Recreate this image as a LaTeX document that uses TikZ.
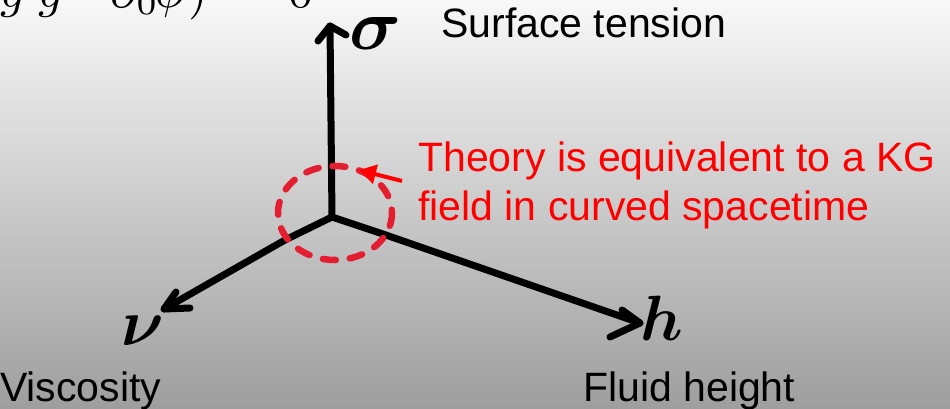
\documentclass[tikz,border=0pt]{standalone}
\usepackage{amsmath,amssymb}
\usepackage{graphicx}
\usepackage{fontspec}
\setmainfont{Liberation Sans}
\usetikzlibrary{arrows.meta}
\definecolor{dashred}{HTML}{E31E30}
\definecolor{bgtop}{HTML}{F8F8F8}
\definecolor{bgbot}{HTML}{9E9E9E}
\tikzset{
  axis/.style={line width=7pt, line cap=round, line join=round, black},
  lbl/.style={inner sep=0pt, anchor=base west, font=\fontsize{41}{49}\selectfont},
  glyph/.style={inner sep=0pt, anchor=center},
}
\newcommand{\eqpiece}[2]{\makebox[#1][l]{$#2$}}
\begin{document}
\begin{tikzpicture}[x=1pt,y=-1pt]
\useasboundingbox (0,0) rectangle (950,408);
\shade[top color=bgtop, bottom color=bgbot] (0,0) rectangle (950,408);
\clip (0,0) rectangle (950,408);
% cut-off equation (only its lower part shows)
\node[inner sep=0pt, anchor=base west] (eq) at (0,7) {\scalebox{5}{\eqpiece{0.76em}{g}\eqpiece{1.44em}{g}\eqpiece{0.9em}{\partial_0}\eqpiece{0.66em}{\phi}\eqpiece{2.0em}{)}\eqpiece{0.5em}{0}}};
% axes
\coordinate (O) at (332,217);
\coordinate (top) at (330,26);
\coordinate (lft) at (164,309);
\coordinate (rgt) at (640,323);
\draw[axis] (O) -- (top);
\draw[axis] (318,41) -- (top) -- (346,35);
\draw[axis] (O) -- (285,240) -- (lft);
\draw[axis] (176,292) -- (lft) -- (190,308);
\draw[axis] (O) -- (380,233) -- (rgt);
\draw[axis] (622,310) -- (rgt) -- (610,337);
% handwritten labels
\node[glyph] (sig) at (376,33) {\scalebox{7.2}{$\boldsymbol{\sigma}$}};
\node[glyph] (nu) at (143,331) {\scalebox{6.6}{$\boldsymbol{\nu}$}};
\node[glyph] (h) at (662,318) {\scalebox{6.4}{$\boldsymbol{h}$}};
% red dashed ellipse
\draw[dashred, line width=6.5pt, line cap=round, dash pattern=on 13pt off 14pt] (335,213) ellipse [x radius=57, y radius=47];
% red arrow and text
\coordinate (rtail) at (402,181);
\coordinate (rtip) at (359,170);
\draw[red, line width=4pt, -{Triangle[length=17pt,width=19pt]}] (rtail) -- (rtip);
\node[lbl, text=red] (t1) at (418,171) {Theory is equivalent to a KG};
\node[lbl, text=red] (t2) at (418,220) {field in curved spacetime};
% black texts
\node[lbl] (st) at (441,37) {Surface tension};
\node[lbl] (vi) at (0,401) {Viscosity};
\node[lbl] (fh) at (583,401) {Fluid height};
\end{tikzpicture}
\end{document}
